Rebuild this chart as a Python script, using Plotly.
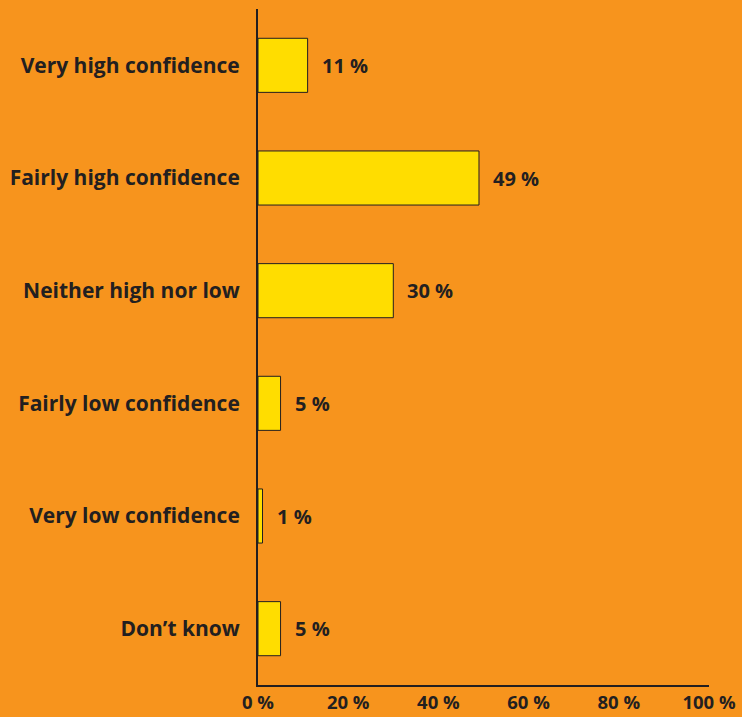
import plotly.graph_objects as go

categories = ["Very high confidence", "Fairly high confidence", "Neither high nor low",
              "Fairly low confidence", "Very low confidence", "Don’t know"]
values = [11, 49, 30, 5, 1, 5]
tick_vals = [0, 20, 40, 60, 80, 100]
tick_text = ["0 %", "20 %", "40 %", "60 %", "80 %", "100 %"]

BG = "#F7941D"
BAR = "#FFDD00"
INK = "#231F20"
FONT = "Open Sans"

fig = go.Figure(go.Bar(
    x=values, y=categories, orientation="h",
    marker=dict(color=BAR, line=dict(color=INK, width=1)),
    width=0.48,
))

for c, v in zip(categories, values):
    fig.add_annotation(x=v, y=c, text=f"{v} %", showarrow=False,
                       xanchor="left", xshift=12,
                       font=dict(family=FONT, size=20, color=INK, weight="bold"))

fig.update_layout(
    width=742, height=717,
    paper_bgcolor=BG, plot_bgcolor=BG,
    margin=dict(l=258, r=33, t=9, b=32),
    showlegend=False,
    font=dict(family=FONT, size=19, color=INK, weight="bold"),
)
fig.update_xaxes(range=[0, 100], tickvals=tick_vals, ticktext=tick_text,
                 showgrid=False, zeroline=False, showline=True, automargin=False,
                 linecolor=INK, linewidth=2, ticks="", ticklabelstandoff=0,
                 tickfont=dict(family=FONT, size=18.5, color=INK, weight="bold"))
fig.update_yaxes(categoryorder="array", categoryarray=categories,
                 autorange="reversed", range=[5.5, -0.5], automargin=False,
                 showgrid=False, zeroline=False, showline=True,
                 linecolor=INK, linewidth=2, ticks="", ticklabelstandoff=12,
                 tickfont=dict(family=FONT, size=21, color=INK, weight="bold"))

fig.write_html("out.html", config={"displayModeBar": False},
               post_script="document.body.style.margin='0';document.body.style.background='#F7941D';")
